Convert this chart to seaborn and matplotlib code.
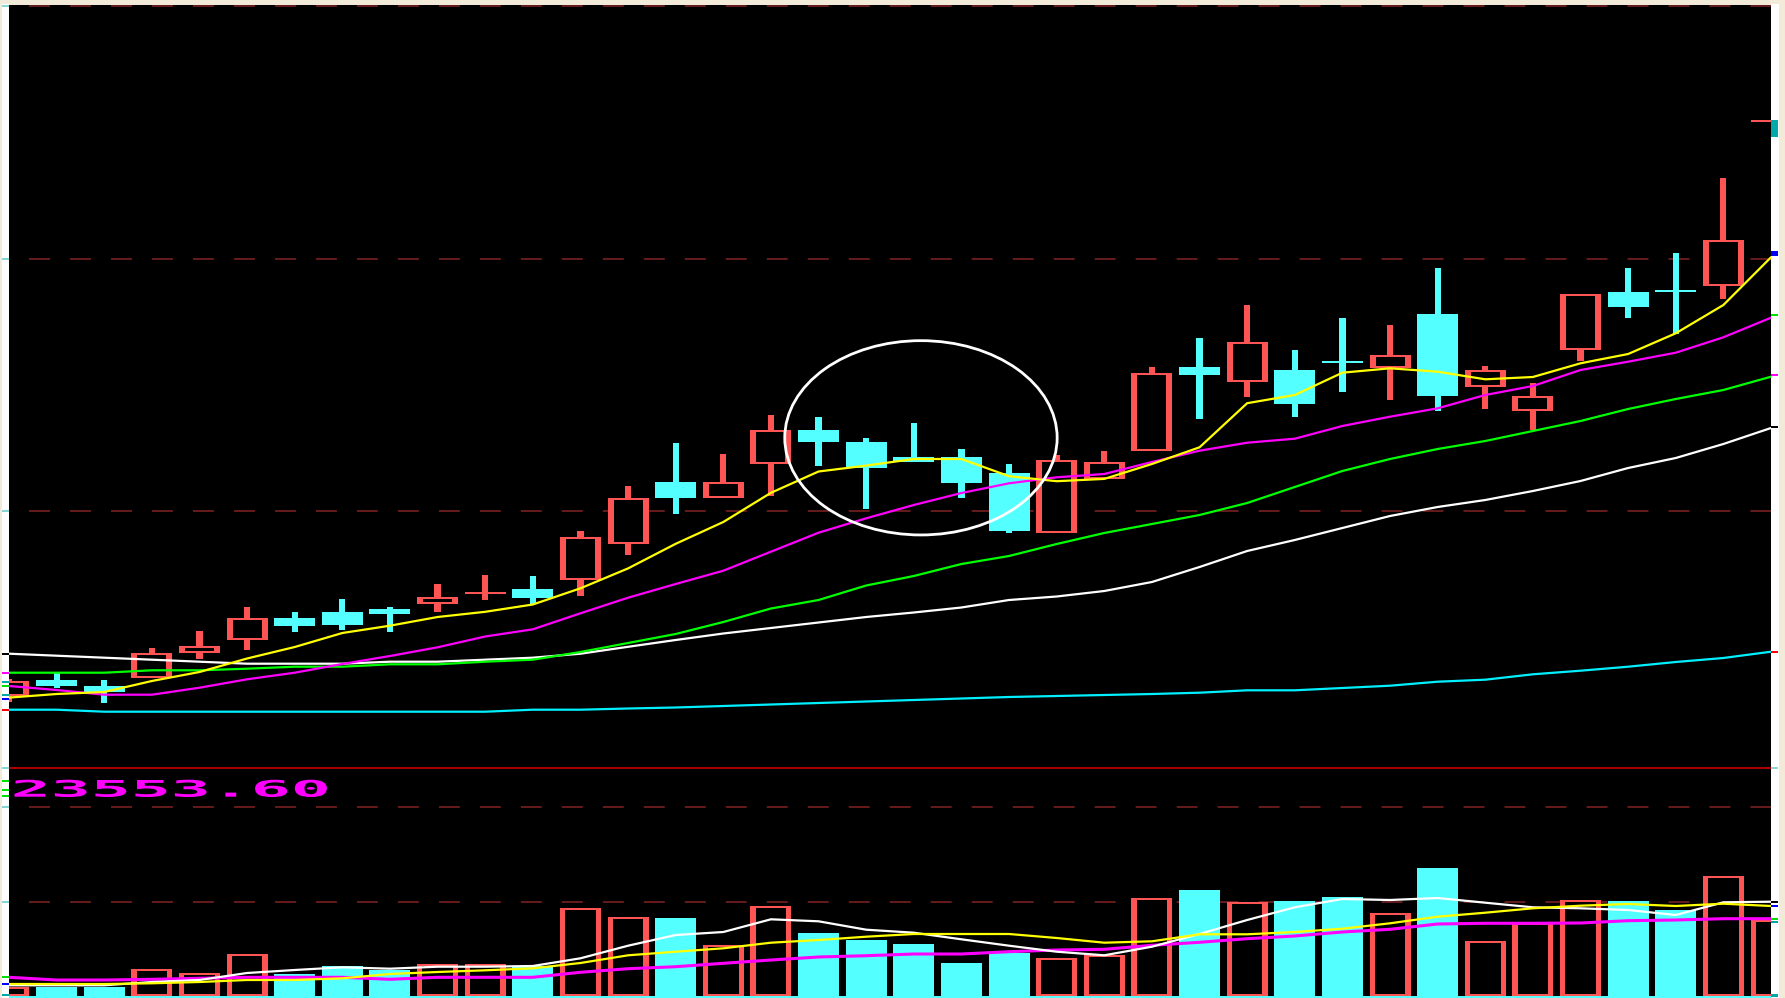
import numpy as np
import pandas as pd
import matplotlib
matplotlib.use("Agg")
import matplotlib.pyplot as plt
import seaborn as sns
from matplotlib.patches import Rectangle, Ellipse
from matplotlib.lines import Line2D
from matplotlib.transforms import Affine2D
from matplotlib.patheffects import AbstractPathEffect

# ---------------- data ----------------
opens = [3304, 3319.6, 3313.6, 3322, 3347.5, 3360.4, 3382.3, 3388.3, 3391.2, 3395.6,
         3406.5, 3411, 3420, 3456.2, 3518.5, 3502, 3536.1, 3570.5, 3557.7, 3542.7,
         3542.7, 3527.1, 3467.4, 3521.1, 3549.3, 3632.6, 3618, 3630, 3639.5, 3632.3,
         3686, 3613.3, 3589.3, 3650, 3708, 3710.3, 3714.3, 3879]
highs = [3321, 3326.6, 3319.6, 3352.4, 3369.4, 3393.2, 3388.3, 3401.2, 3393.2, 3416.1,
         3425.5, 3424, 3468.8, 3514.5, 3557.3, 3546.4, 3585.2, 3583.5, 3561.7, 3576.6,
         3550.7, 3536.1, 3545, 3549, 3632.6, 3662.4, 3695.3, 3650, 3682, 3675,
         3732, 3634, 3616.7, 3706, 3732, 3747, 3822, 3879]
lows = [3298.3, 3311.6, 3297, 3322, 3341.5, 3349.8, 3367.7, 3369.7, 3367.7, 3388.3,
        3399.8, 3395.8, 3404.4, 3445.2, 3485.7, 3502, 3504, 3534, 3491.1, 3538.1,
        3502.3, 3467.4, 3467.4, 3521.1, 3549.3, 3580.8, 3602.7, 3583.3, 3608, 3600.3,
        3589.3, 3591.3, 3570, 3639.3, 3682, 3666, 3701.3, 3879]
closes = [3319, 3314, 3308.3, 3347.5, 3354.4, 3382.3, 3373.7, 3375.3, 3386.3, 3403.2,
          3408.3, 3402.4, 3462.8, 3501.6, 3502, 3518.5, 3570.2, 3558, 3532.1, 3538.1,
          3517.2, 3469.4, 3540, 3538, 3626.6, 3624.6, 3658.5, 3596, 3637.5, 3645,
          3604, 3630, 3604, 3706, 3693.3, 3708.3, 3760, 3879]

ma5 = [3302.4, 3306, 3308, 3319, 3328, 3341.5, 3353, 3367, 3374.3, 3383,
       3388.2, 3395.5, 3411.7, 3431.6, 3456.2, 3478, 3507.2, 3528.5, 3534.4, 3541,
       3541, 3523.8, 3518.8, 3521.1, 3536, 3552.7, 3596.8, 3605, 3627.3, 3631.7,
       3628.3, 3620.7, 3623, 3636.7, 3646, 3666.7, 3695, 3742.7]
ma10 = [3314, 3310, 3305.3, 3305.3, 3312.3, 3320.7, 3327.3, 3336, 3344, 3352.7,
        3363.5, 3370.7, 3386.7, 3402.3, 3416, 3429.3, 3448.3, 3467.3, 3481.7, 3495,
        3507, 3516.7, 3522.7, 3526, 3538, 3549.3, 3557.3, 3561.3, 3574, 3583.3,
        3591.7, 3605, 3614, 3630, 3638.3, 3647.3, 3662.7, 3682.3]
ma20 = [3327.3, 3327.3, 3327.3, 3329.7, 3329.7, 3331.3, 3333.3, 3333.3, 3335.7, 3335.7,
        3338.3, 3340.3, 3348, 3357, 3366, 3378, 3391.5, 3400, 3414.5, 3424,
        3436, 3444, 3456, 3467, 3476, 3485, 3497, 3513, 3529, 3541,
        3551, 3559, 3569, 3579, 3591, 3601, 3610, 3623.3]
ma30 = [3346.3, 3344.3, 3342.3, 3340.3, 3338.3, 3336.3, 3336.3, 3336.3, 3338.3, 3338.3,
        3340.3, 3342.3, 3346.3, 3353.2, 3360, 3366.5, 3372, 3377.5, 3383, 3387.5,
        3392.5, 3400, 3403.5, 3409, 3418, 3433, 3449, 3460, 3472, 3484,
        3493, 3500, 3509, 3519, 3532, 3542, 3556, 3572]
ma60 = [3290.3, 3290.3, 3288.3, 3288.3, 3288.3, 3288.3, 3288.3, 3288.3, 3288.3, 3288.3,
        3288.3, 3290.3, 3290.3, 3291.5, 3292.5, 3294, 3295.5, 3297, 3298.5, 3300,
        3301.5, 3303, 3304, 3305, 3306, 3307.3, 3309.7, 3309.7, 3312, 3314.3,
        3318.3, 3320.3, 3325.7, 3329.3, 3333.3, 3338, 3342, 3348.3]

volume = [10, 10, 10, 28, 24, 43, 23, 31, 27, 33, 33, 31, 89, 80, 79, 52, 91, 64, 57, 53,
          34, 44, 39, 42, 99, 107, 95, 96, 100, 84, 129, 56, 74, 97, 96, 87, 121, 77]
vol_ma5 = [11.4, 11.4, 11.4, 14.7, 16.7, 23.7, 26.7, 29.4, 28, 30, 30, 30.7, 38.4, 51,
           61.7, 64.7, 77.4, 75.4, 67, 64, 57.4, 51, 45, 41.4, 50, 62.7, 76.7, 89.4,
           97.7, 96.7, 98.7, 94, 89.4, 88.4, 86.7, 81.7, 94.4, 95]
vol_ma10 = [12.7, 12.7, 12.7, 13.4, 14.7, 16.7, 16.7, 18.4, 22.7, 24.7, 26.4, 28.4, 33.7,
            41.4, 45, 48.4, 54, 56.7, 60, 62.7, 62.7, 62.7, 58.7, 54, 55.4, 62.4, 62.4,
            64.7, 68, 73.4, 80, 84, 88.4, 91, 92.7, 90.7, 93, 90.7]
vol_ma20 = [19.4, 16.7, 16.7, 17.4, 18.4, 19.4, 19.4, 19.4, 17.4, 19.4, 19.4, 19.4, 24.4,
            28, 30, 33.4, 36.7, 39.7, 41, 42.7, 42.7, 45, 46.7, 47.4, 51.4, 54.4, 58,
            60.7, 64.7, 67.4, 72.7, 73.4, 73.4, 73.7, 76, 76.7, 78, 78]

volume_label = "23553.60"
price_grid = [3994, 3741.5, 3489]
volume_grid = [95, 190]

# annotation ellipse (candle index / price units)
ELLIPSE_CENTER = (19.15, 3562.2)
ELLIPSE_W, ELLIPSE_H = 5.72, 194.3

# ---------------- style ----------------
RED = "#ff5454"
CYAN = "#54ffff"
GRID = "#6e1d1d"
SEP = "#a80000"
CREAM = "#f2ebd9"

sns.set_theme(style="dark")
plt.rcParams["font.family"] = ["DejaVu Sans Mono", "DejaVu Sans"]

W, H = 1785, 998
fig = plt.figure(figsize=(W / 100, H / 100), dpi=100)
fig.patch.set_facecolor(CREAM)


def fx(px):
    return px / W


def fy(py):
    return 1 - py / H


ax = fig.add_axes([fx(9), fy(768), fx(1771) - fx(9), fy(5) - fy(768)])
axv = fig.add_axes([fx(9), fy(998), fx(1771) - fx(9), fy(768) - fy(998)])
for a in (ax, axv):
    a.set_facecolor("black")
    a.set_xticks([])
    a.set_yticks([])
    a.grid(False)
    for s in a.spines.values():
        s.set_visible(False)
    a.set_xlim(0, 37)
ax.set_ylim(3232, 3995)
axv.set_ylim(-1.3, 228.7)

# grid (dashed dark red)
GLW = 1.3
dash = (11.6, (11.6, 11.1))
for g in price_grid:
    ax.axhline(g, color=GRID, lw=GLW, linestyle=dash, zorder=1)
for g in volume_grid:
    axv.axhline(g, color=GRID, lw=GLW, linestyle=dash, zorder=1)

# ---------------- candles ----------------
idx = np.arange(len(volume))
o = np.array(opens, float)
h = np.array(highs, float)
l = np.array(lows, float)
c = np.array(closes, float)
up = c >= o
cols = np.where(up, RED, CYAN)

BODY_W = 0.86
WICK_W = 0.13
EDGE_X = 0.126
EDGE_Y = 2.0
MIN_BODY = 2.0

top = np.maximum(o, c)
bot = np.minimum(o, c)
bh = np.maximum(top - bot, MIN_BODY)
bb = (top + bot) / 2 - bh / 2

ax.bar(idx, h - l, bottom=l, width=WICK_W, color=cols, linewidth=0, zorder=2, antialiased=False)
ax.bar(idx, bh, bottom=bb, width=BODY_W, color=cols, linewidth=0, zorder=3, antialiased=False)
hollow = up & (bh > 2 * EDGE_Y + 0.5)
ax.bar(idx[hollow], bh[hollow] - 2 * EDGE_Y, bottom=bb[hollow] + EDGE_Y,
       width=BODY_W - 2 * EDGE_X, color="black", linewidth=0, zorder=4, antialiased=False)

# moving averages (price)
ma_names = ["MA60", "MA30", "MA20", "MA10", "MA5"]
ma_vals = [ma60, ma30, ma20, ma10, ma5]
ma_cols = {"MA60": "#00f0ff", "MA30": "#ffffff", "MA20": "#00ff00",
           "MA10": "#ff00ff", "MA5": "#ffff00"}
ma_df = pd.DataFrame({
    "idx": np.tile(idx, len(ma_names)),
    "value": np.concatenate([np.array(v, float) for v in ma_vals]),
    "line": np.repeat(ma_names, len(idx)),
})
sns.lineplot(data=ma_df, x="idx", y="value", hue="line", hue_order=ma_names,
             palette=ma_cols, estimator=None, sort=False, legend=False,
             linewidth=1.6, ax=ax, zorder=5)

ax.add_patch(Ellipse(ELLIPSE_CENTER, ELLIPSE_W, ELLIPSE_H, fill=False,
                     edgecolor="white", linewidth=2.0, zorder=7))
ax.set_xlabel("")
ax.set_ylabel("")

# ---------------- volume ----------------
v = np.array(volume, float)
VEDGE_X = 0.11
VEDGE_Y = 2.5
axv.bar(idx, v, width=BODY_W, color=cols, linewidth=0, zorder=2, antialiased=False)
axv.bar(idx[up], v[up] - 2 * VEDGE_Y, bottom=VEDGE_Y, width=BODY_W - 2 * VEDGE_X,
        color="black", linewidth=0, zorder=3, antialiased=False)

vdf = pd.DataFrame({
    "idx": np.tile(idx, 2),
    "value": np.concatenate([np.array(vol_ma5, float), np.array(vol_ma10, float)]),
    "line": np.repeat(["VMA5", "VMA10"], len(idx)),
})
sns.lineplot(x=idx, y=np.array(vol_ma20, float), color="#ff00ff", linewidth=2.2,
             estimator=None, sort=False, ax=axv, zorder=5)
sns.lineplot(data=vdf, x="idx", y="value", hue="line", hue_order=["VMA5", "VMA10"],
             palette={"VMA5": "#ffffff", "VMA10": "#ffff00"}, estimator=None,
             sort=False, legend=False, linewidth=1.6, ax=axv, zorder=6)
axv.set_xlabel("")
axv.set_ylabel("")


class HStretch(AbstractPathEffect):
    """Draw text glyphs stretched horizontally (wide terminal-style digits)."""

    def __init__(self, sx):
        super().__init__(offset=(0, 0))
        self._sx = sx

    def draw_path(self, renderer, gc, tpath, affine, rgbFace=None):
        renderer.draw_path(gc, tpath, Affine2D().scale(self._sx, 1.0) + affine, rgbFace)


axv.text(0.001, (998 - 796.7) / 230, volume_label, transform=axv.transAxes,
         color="#ff00ff", fontsize=16.5, family="DejaVu Sans Mono", weight="bold",
         ha="left", va="baseline", clip_on=True, path_effects=[HStretch(2.9)], zorder=8)

# separator line between panels and bottom cyan edge
fig.add_artist(Line2D([fx(9), fx(1771)], [fy(767.7), fy(767.7)], transform=fig.transFigure,
                      color=SEP, lw=1.5, zorder=3))
fig.add_artist(Rectangle((fx(9), fy(998)), fx(1771) - fx(9), 2 / H, transform=fig.transFigure,
                         facecolor=CYAN, edgecolor="none", zorder=3))

# ---------------- frame strips and side markers ----------------
fig.add_artist(Rectangle((0, 0), fx(9), 1, transform=fig.transFigure,
                         facecolor=CREAM, edgecolor="none", zorder=4))
fig.add_artist(Rectangle((fx(2), 0), fx(7), fy(4), transform=fig.transFigure,
                         facecolor="white", edgecolor="none", zorder=4))
fig.add_artist(Rectangle((fx(1771), 0), fx(8), fy(4), transform=fig.transFigure,
                         facecolor="white", edgecolor="none", zorder=4))

left_marks = [(5.7, "#86d6d6"), (258.7, "#86d6d6"), (510.5, "#86d6d6"), (653.7, "black"),
              (672.7, "#ff00ff"), (681.7, "#00a8a8"), (685.7, "#00e000"), (694.7, "#00a8a8"),
              (698.7, "#0000ff"), (709.7, "#ff0000"), (767.7, "#86d6d6"), (780.7, "#00e000"),
              (789.7, "#00e000"), (795.7, "#00e000"), (806.7, "#86d6d6"), (901.7, "#86d6d6"),
              (977.3, "#00e000"), (984, "#0000ff"), (995, "#00a8a8")]
for yy, cc in left_marks:
    fig.add_artist(Rectangle((fx(2), fy(yy + 1)), fx(7), 2 / H, transform=fig.transFigure,
                             facecolor=cc, edgecolor="none", zorder=5))

right_marks = [(251, 5, "#0000ff"), (313.8, 2, "#00e000"), (374, 2, "#ff00ff"),
               (425.5, 2, "black"), (650.7, 2, "#ff0000"), (766.7, 2, "#86d6d6"),
               (900.7, 2, "black"), (904.7, 2, "#0000ff"), (918, 2, "#00e000"),
               (920.5, 2, "#00a8a8"), (994, 3, "#00a8a8"), (120, 17, "#00aaaa")]
for yy, hh, cc in right_marks:
    fig.add_artist(Rectangle((fx(1771), fy(yy + hh)), fx(7), hh / H, transform=fig.transFigure,
                             facecolor=cc, edgecolor="none", zorder=5))

fig.savefig("out.png", dpi=100, facecolor=fig.get_facecolor())
